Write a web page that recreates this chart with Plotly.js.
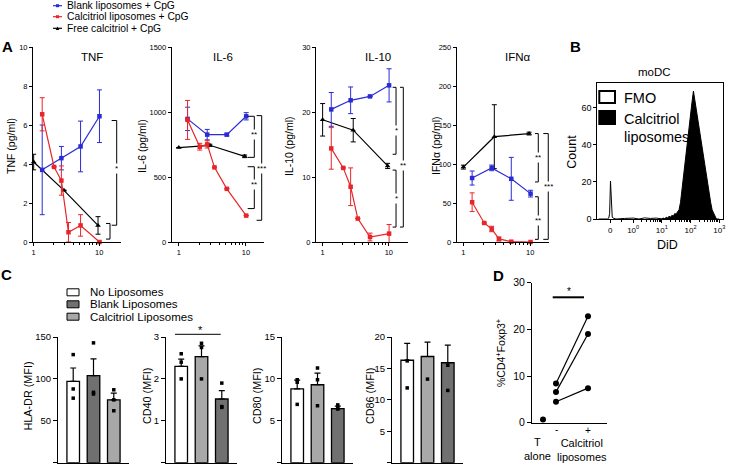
<!DOCTYPE html>
<html><head><meta charset="utf-8">
<script src="https://cdn.plot.ly/plotly-3.0.1.min.js"></script>
<style>html,body{margin:0;padding:0;background:#fff}#chart{width:738px;height:468px}</style>
</head><body><div id="chart"></div>
<script>
// ---------------- Panel A data ----------------
const concLipo  = [1.35, 2.05, 2.65, 3.4, 5.2, 10.1];   // calcitriol liposomes
const concBlank = [1.35, 2.65, 5.2, 10.1];              // blank liposomes
const concFree  = [1, 2.9, 9.6];                        // free calcitriol

const tnfBlank = [3.7, 4.3, 4.9, 6.45];       const tnfBlankErr = [2.3, 0.6, 1.3, 1.35];
const tnfCalc  = [6.55, 3.85, 3.15, 0.5, 0.85, 0.0]; const tnfCalcErr = [0.85, 0, 0.75, 0.5, 0.55, 0];
const tnfFree  = [4.1, 2.65, 0.85];           const tnfFreeErr = [0.4, 0, 0.45];

const il6Blank = [947, 826, 826, 967];        const il6BlankErr = [90, 40, 10, 28];
const il6Calc  = [939, 733, 751, 574, 409, 203]; const il6CalcErr = [150, 26, 28, 0, 0, 0];
const il6Free  = [726, 744, 659];             const il6FreeErr = [0, 8, 10];

const il10Blank = [20.4, 21.8, 22.4, 24.1];   const il10BlankErr = [2.6, 2.05, 0, 2.55];
const il10Calc  = [14.4, 11.4, 8.5, 3.6, 0.77, 1.29]; const il10CalcErr = [3.2, 0, 2.9, 0, 0.6, 1.4];
const il10Free  = [18.8, 17.2, 11.7];         const il10FreeErr = [2.5, 1.8, 0.4];

const ifnBlank = [82, 95, 81, 62];            const ifnBlankErr = [9, 3.6, 27.5, 4.3];
const ifnCalc  = [51, 24.4, 16.7, 3.9, 0.4, 0]; const ifnCalcErr = [12, 0, 3.5, 2.5, 0.5, 0];
const ifnFree  = [96, 135, 139];              const ifnFreeErr = [2.5, 41, 1.8];

const seriesNames = ['Blank liposomes + CpG', 'Calcitriol liposomes + CpG', 'Free calcitriol + CpG'];
const cytokineTitles = ['TNF', 'IL-6', 'IL-10', 'IFNα'];
const cytokineYTitles = ['TNF (pg/ml)', 'IL-6 (pg/ml)', 'IL-10 (pg/ml)', 'IFNα (pg/ml)'];

// ---------------- Panel B data (DiD histogram, biexponential axis units) ----------------
const didFmoPos   = [-1.2, -0.9, -0.85, -0.82, -0.79, -0.76, -0.73, -0.7, -0.6, -0.3, 0, 0.2, 0.4, 0.6, 0.8, 1.0, 1.3, 1.6, 2.0, 2.5, 3.0];
const didFmoCount = [0, 0, 0.5, 3, 20.5, 6, 1, 0.5, 0, 0.3, 0.5, 0, 0.6, 0.3, 0.5, 0, 0.3, 0, 0, 0, 0];
const didCalcPos   = [0.9, 1.0, 1.05, 1.1, 1.15, 1.2, 1.25, 1.3, 1.35, 1.4, 1.45, 1.5, 1.55, 1.6, 1.65, 1.7, 1.75, 1.8, 1.85, 1.9, 1.95, 2.0, 2.05, 2.1, 2.15, 2.2, 2.25, 2.3, 2.35, 2.4, 2.45, 2.5, 2.55, 2.6, 2.65, 2.7, 2.75, 2.8, 2.85, 2.9];
const didCalcCount = [0, 0, 0.5, 0, 1, 0.5, 1.5, 1, 2, 1.5, 3, 2.5, 4, 5, 9, 16, 22, 29, 38, 45, 51, 57, 63, 69, 64, 58, 53, 48, 42, 37, 32, 27, 22, 18, 13, 9, 5, 3, 1, 0];
const bTickText = ['0', '10<sup>0</sup>', '10<sup>1</sup>', '10<sup>2</sup>', '10<sup>3</sup>'];

// ---------------- Panel C data ----------------
const cGroups = ['No Liposomes', 'Blank Liposomes', 'Calcitriol Liposomes'];
const hladrMean = [97, 104, 75];   const hladrSem = [16, 20, 8];
const hladrDots = [[129, 88, 77], [143, 84, 82], [87, 75, 62]];
const cd40Mean = [2.3, 2.53, 1.52]; const cd40Sem = [0.17, 0.26, 0.2];
const cd40Dots = [[2.6, 2.4, 2.0], [2.85, 2.75, 2.0], [1.9, 1.34, 1.32]];
const cd80Mean = [8.8, 9.3, 6.45];  const cd80Sem = [1.05, 1.4, 0.3];
const cd80Dots = [[9.9, 9.6, 6.96], [11.3, 9.9, 6.8], [6.9, 6.5, 6.4]];
const cd86Mean = [16.3, 16.9, 15.9]; const cd86Sem = [2.7, 2.3, 2.8];
const cd86Dots = [[16.2, 11.9], [13.3], [15.5, 11.5]];
const cMarkerNames = ['HLA-DR (MFI)', 'CD40 (MFI)', 'CD80 (MFI)', 'CD86 (MFI)'];

// ---------------- Panel D data ----------------
const dTAlone = [0.7];
const dMinus  = [8.4, 6.6, 4.5];
const dPlus   = [22.8, 19.0, 7.4];

// ---------------- helpers ----------------
const W = 738, H = 468;
const FONT = 'Liberation Sans, Arial, sans-serif';
const BLUE = '#2b2bd6', RED = '#e8262a', BLACK = '#000000';
const GREY_D = '#707070', GREY_L = '#a8a8a8';
const px = x => x / W, py = y => 1 - y / H;
const domX = (a, b) => [a / W, b / W];
const domY = (top, bot) => [1 - bot / H, 1 - top / H];

function baseAxis(extra) {
  return Object.assign({showline: true, linecolor: '#000', linewidth: 1, ticks: 'outside', ticklen: 3,
    tickwidth: 1, tickcolor: '#000', showgrid: false, zeroline: false, fixedrange: true,
    tickfont: {size: 7.5, color: '#000', family: FONT}}, extra);
}

const traces = [];
const shapes = [];
const annotations = [];
const layout = {width: W, height: H, margin: {l: 0, r: 0, t: 0, b: 0}, paper_bgcolor: '#fff', plot_bgcolor: 'rgba(0,0,0,0)',
  showlegend: false, font: {family: FONT, color: '#000'}, shapes, annotations};

function ann(text, x, y, o) {
  annotations.push(Object.assign({text, x: px(x), y: py(y), xref: 'paper', yref: 'paper', showarrow: false,
    xanchor: 'center', yanchor: 'middle', font: {size: 10.5, family: FONT, color: '#000'}}, o || {}));
}

function lineTrace(x, y, err, color, symbol, n) {
  const s = n === 1 ? '' : n;
  return {type: 'scatter', mode: 'lines+markers', x, y, xaxis: 'x' + s, yaxis: 'y' + s, cliponaxis: false,
    line: {color, width: 1.2}, marker: {color, symbol, size: symbol === 'triangle-up' ? 5 : 4.5},
    error_y: {type: 'data', array: err, visible: true, color, thickness: 1, width: 2.5}};
}

// ---------------- Panel A ----------------
const aCfg = [
  {n: 1, x0: 33, x1: 121, xr: [-0.01, 1.333], yr: [0, 10], dt: 2, blank: tnfBlank, be: tnfBlankErr, calc: tnfCalc, ce: tnfCalcErr, free: tnfFree, fe: tnfFreeErr, tx: 92.5, yt: 11},
  {n: 2, x0: 171.7, x1: 264, xr: [-0.106, 1.27], yr: [0, 1500], dt: 500, blank: il6Blank, be: il6BlankErr, calc: il6Calc, ce: il6CalcErr, free: il6Free, fe: il6FreeErr, tx: 222.5, yt: 142},
  {n: 3, x0: 316, x1: 408, xr: [-0.1, 1.29], yr: [0, 30], dt: 10, blank: il10Blank, be: il10BlankErr, calc: il10Calc, ce: il10CalcErr, free: il10Free, fe: il10FreeErr, tx: 377.5, yt: 289},
  {n: 4, x0: 456.7, x1: 549, xr: [-0.1, 1.28], yr: [0, 250], dt: 50, blank: ifnBlank, be: ifnBlankErr, calc: ifnCalc, ce: ifnCalcErr, free: ifnFree, fe: ifnFreeErr, tx: 518.3, yt: 436},
];
aCfg.forEach((c, i) => {
  const s = c.n === 1 ? '' : c.n;
  layout['xaxis' + s] = baseAxis({domain: domX(c.x0, c.x1), anchor: 'y' + s, type: 'log', range: c.xr,
    tickmode: 'array', tickvals: [1, 10], ticktext: ['1', '10'],
    minor: {ticks: 'outside', ticklen: 2, tickcolor: '#000', tickmode: 'array', tickvals: [2, 3, 4, 5, 6, 7, 8, 9]}});
  layout['yaxis' + s] = baseAxis({domain: domY(47, 242), anchor: 'x' + s, range: c.yr, dtick: c.dt, tick0: 0});
  traces.push(lineTrace(concFree, c.free, c.fe, BLACK, 'triangle-up', c.n));
  traces.push(lineTrace(concBlank, c.blank, c.be, BLUE, 'square', c.n));
  traces.push(lineTrace(concLipo, c.calc, c.ce, RED, 'square', c.n));
  ann(cytokineTitles[i], c.tx, 57, {font: {size: 11.5, family: FONT}});
  ann(cytokineYTitles[i], c.yt, 146, {textangle: -90, font: {size: 10.5, family: FONT}});
});

// significance brackets (x in domain fraction, y in data units)
function bracket(n, xv, xt, top, bot, label, ly) {
  const s = n === 1 ? '' : n;
  const xr = 'x' + s + ' domain', yr = 'y' + s;
  const L = {color: '#000', width: 1};
  shapes.push({type: 'line', xref: xr, yref: yr, x0: xt, x1: xv, y0: top, y1: top, line: L});
  shapes.push({type: 'line', xref: xr, yref: yr, x0: xv, x1: xv, y0: top, y1: bot, line: L});
  shapes.push({type: 'line', xref: xr, yref: yr, x0: xt, x1: xv, y0: bot, y1: bot, line: L});
  if (label) annotations.push({text: label, xref: xr, yref: yr, x: xv, y: ly, showarrow: false, bgcolor: '#fff',
    borderpad: 0, font: {size: 8, family: FONT, color: '#000'}, xanchor: 'center', yanchor: 'middle'});
}
bracket(1, 0.951, 0.894, 6.23, 0.86, '*', 3.77);
bracket(1, 0.875, 0.83, 0.95, 0.15, '', 0);
bracket(2, 0.895, 0.823, 967, 651, '**', 828);
bracket(2, 0.895, 0.823, 579, 257, '**', 445);
bracket(2, 0.975, 0.92, 972, 167, '***', 566);
bracket(3, 0.87, 0.833, 23.8, 13.5, '*', 17.2);
bracket(3, 0.87, 0.833, 11.06, 2.3, '*', 6.7);
bracket(3, 0.949, 0.913, 23.8, 2.3, '**', 11.8);
bracket(4, 0.884, 0.848, 139, 77, '**', 108);
bracket(4, 0.884, 0.848, 58, 3.4, '**', 28);
bracket(4, 0.992, 0.938, 139, 3.4, '***', 71);

// legend for panel A (drawn manually)
const legColors = [BLUE, RED, BLACK];
const legSymbols = ['square', 'square', 'triangle'];
[5.7, 16.7, 28.3].forEach((yy, i) => {
  shapes.push({type: 'line', xref: 'paper', yref: 'paper', x0: px(53), x1: px(62), y0: py(yy), y1: py(yy), line: {color: legColors[i], width: 1.2}});
  if (legSymbols[i] === 'square')
    shapes.push({type: 'rect', xref: 'paper', yref: 'paper', x0: px(56), x1: px(59), y0: py(yy + 1.5), y1: py(yy - 1.5), fillcolor: legColors[i], line: {width: 0}});
  else
    shapes.push({type: 'path', xref: 'paper', yref: 'paper', path: `M ${px(55.7)} ${py(yy + 1.6)} L ${px(59.3)} ${py(yy + 1.6)} L ${px(57.5)} ${py(yy - 1.8)} Z`, fillcolor: '#000', line: {width: 0}});
  ann(seriesNames[i], 65, yy, {xanchor: 'left', font: {size: 10.3, family: FONT}});
});

// ---------------- Panel B ----------------
layout.xaxis5 = baseAxis({domain: domX(597.3, 722.7), anchor: 'y5', range: [-1.25, 3.12], mirror: true,
  tickmode: 'array', tickvals: [-0.8, 0, 1, 2, 3], ticktext: bTickText, tickfont: {size: 8, family: FONT, color: '#000'},
  minor: {ticks: 'outside', ticklen: 2, tickcolor: '#000', tickmode: 'array',
    tickvals: [0.301, 0.477, 0.602, 0.699, 0.778, 0.845, 0.903, 0.954, 1.301, 1.477, 1.602, 1.699, 1.778, 1.845, 1.903, 1.954, 2.301, 2.477, 2.602, 2.699, 2.778, 2.845, 2.903, 2.954, -0.4]}});
layout.yaxis5 = baseAxis({domain: domY(83.3, 219), anchor: 'x5', range: [0, 73.2], mirror: true,
  tickmode: 'array', tickvals: [0, 20, 40, 60], tickfont: {size: 9, family: FONT, color: '#000'}});
traces.push({type: 'scatter', mode: 'lines', x: didFmoPos, y: didFmoCount, xaxis: 'x5', yaxis: 'y5',
  line: {color: '#000', width: 1}});
traces.push({type: 'scatter', mode: 'lines', x: didCalcPos, y: didCalcCount, xaxis: 'x5', yaxis: 'y5',
  fill: 'tozeroy', fillcolor: '#000', line: {color: '#000', width: 1}});
ann('moDC', 654, 72, {font: {size: 11.5, family: FONT}});
ann('Count', 571.7, 152, {textangle: -90, font: {size: 12.5, family: FONT}});
ann('DiD', 667, 245, {font: {size: 12.5, family: FONT}});
shapes.push({type: 'rect', xref: 'paper', yref: 'paper', x0: px(599.3), x1: px(615), y0: py(103), y1: py(91), fillcolor: '#fff', line: {color: '#000', width: 2}});
shapes.push({type: 'rect', xref: 'paper', yref: 'paper', x0: px(598.3), x1: px(616), y0: py(125), y1: py(110), fillcolor: '#000', line: {width: 0}});
ann('FMO', 622, 98, {xanchor: 'left', font: {size: 14.5, family: FONT}});
ann('Calcitriol', 622, 119, {xanchor: 'left', font: {size: 14.5, family: FONT}});
ann('liposomes', 622, 137, {xanchor: 'left', font: {size: 14.5, family: FONT}});

// ---------------- Panel C ----------------
const cCfg = [
  {n: 6, x0: 58, mean: hladrMean, sem: hladrSem, dots: hladrDots, yr: [0, 150], dt: 50, cols: ['#fff', GREY_D, GREY_L], yt: 27.5},
  {n: 7, x0: 166, mean: cd40Mean, sem: cd40Sem, dots: cd40Dots, yr: [0, 3], dt: 1, cols: ['#fff', GREY_L, GREY_D], yt: 147},
  {n: 8, x0: 282, mean: cd80Mean, sem: cd80Sem, dots: cd80Dots, yr: [0, 15], dt: 5, cols: ['#fff', GREY_L, GREY_D], yt: 257},
  {n: 9, x0: 392, mean: cd86Mean, sem: cd86Sem, dots: cd86Dots, yr: [0, 20], dt: 5, cols: ['#fff', GREY_L, GREY_D], yt: 370},
];
cCfg.forEach((c, i) => {
  const s = c.n;
  layout['xaxis' + s] = baseAxis({domain: domX(c.x0, c.x0 + 71), anchor: 'y' + s, range: [0.25, 3.75], ticks: '', showticklabels: false});
  layout['yaxis' + s] = baseAxis({domain: domY(337, 462.7), anchor: 'x' + s, range: c.yr, dtick: c.dt, tick0: 0, ticklen: 4,
    tickfont: {size: 9.5, family: FONT, color: '#000'}});
  traces.push({type: 'bar', x: [1, 2, 3], y: c.mean, xaxis: 'x' + s, yaxis: 'y' + s, width: 0.62,
    marker: {color: c.cols, line: {color: '#000', width: 1.3}},
    error_y: {type: 'data', symmetric: false, array: c.sem, arrayminus: [0, 0, 0], color: '#000', thickness: 1.2, width: 3}});
  const dx = [], dyv = [];
  c.dots.forEach((g, k) => g.forEach(v => { dx.push(k + 1); dyv.push(v); }));
  traces.push({type: 'scatter', mode: 'markers', x: dx, y: dyv, xaxis: 'x' + s, yaxis: 'y' + s,
    marker: {symbol: 'square', size: 3.5, color: '#000'}, cliponaxis: false});
  ann(cMarkerNames[i], c.yt, 396, {textangle: -90, font: {size: 10.8, family: FONT}});
});
// CD40 significance
shapes.push({type: 'line', xref: 'paper', yref: 'paper', x0: px(175), x1: px(220.7), y0: py(334.3), y1: py(334.3), line: {color: '#000', width: 1}});
ann('*', 200.7, 330, {font: {size: 11, family: FONT}});
// legend C
const cLegCols = ['#fff', GREY_D, GREY_L];
[292.3, 304.3, 316.7].forEach((yy, i) => {
  shapes.push({type: 'rect', xref: 'paper', yref: 'paper', x0: px(67), x1: px(79), y0: py(yy + 3.5), y1: py(yy - 3.5),
    fillcolor: cLegCols[i], line: {color: '#000', width: 1}});
  ann(cGroups[i], 87.7, yy, {xanchor: 'left', font: {size: 11.5, family: FONT}});
});

// ---------------- Panel D ----------------
const dPos = {tAlone: 1.1, minus: 2.4, plus: 5.6};
layout.xaxis10 = baseAxis({domain: domX(532, 607), anchor: 'y10', range: [0, 7.5], ticks: '', showticklabels: false});
layout.yaxis10 = baseAxis({domain: domY(282.7, 422.7), anchor: 'x10', range: [0, 30], dtick: 10, tick0: 0, ticklen: 4,
  tickfont: {size: 10.5, family: FONT, color: '#000'}});
traces.push({type: 'scatter', mode: 'markers', x: [dPos.tAlone], y: dTAlone, xaxis: 'x10', yaxis: 'y10', cliponaxis: false,
  marker: {size: 6, color: '#000'}});
dMinus.forEach((v, k) => {
  traces.push({type: 'scatter', mode: 'lines+markers', x: [dPos.minus, dPos.plus], y: [v, dPlus[k]], xaxis: 'x10', yaxis: 'y10',
    line: {color: '#000', width: 1.2}, marker: {size: 6, color: '#000'}});
});
shapes.push({type: 'line', xref: 'paper', yref: 'paper', x0: px(552.7), x1: px(584), y0: py(297.3), y1: py(297.3), line: {color: '#000', width: 2}});
ann('*', 569.3, 291, {font: {size: 10, family: FONT}});
ann('%CD4<sup>+</sup>Foxp3<sup>+</sup>', 500, 353, {textangle: -90, font: {size: 10.5, family: FONT}});
ann('-', 556, 429, {font: {size: 10, family: FONT}});
ann('+', 588, 430, {font: {size: 10, family: FONT}});
ann('T<br>alone', 537, 449, {font: {size: 11, family: FONT}});
ann('Calcitriol<br>liposomes', 581.7, 450, {font: {size: 11, family: FONT}});

// panel letters
ann('<b>A</b>', 7, 47, {font: {size: 15, family: FONT}});
ann('<b>B</b>', 575, 47, {font: {size: 15, family: FONT}});
ann('<b>C</b>', 6, 274, {font: {size: 15, family: FONT}});
ann('<b>D</b>', 498, 275, {font: {size: 15, family: FONT}});

Plotly.newPlot('chart', traces, layout, {displayModeBar: false, staticPlot: true});
</script></body></html>
